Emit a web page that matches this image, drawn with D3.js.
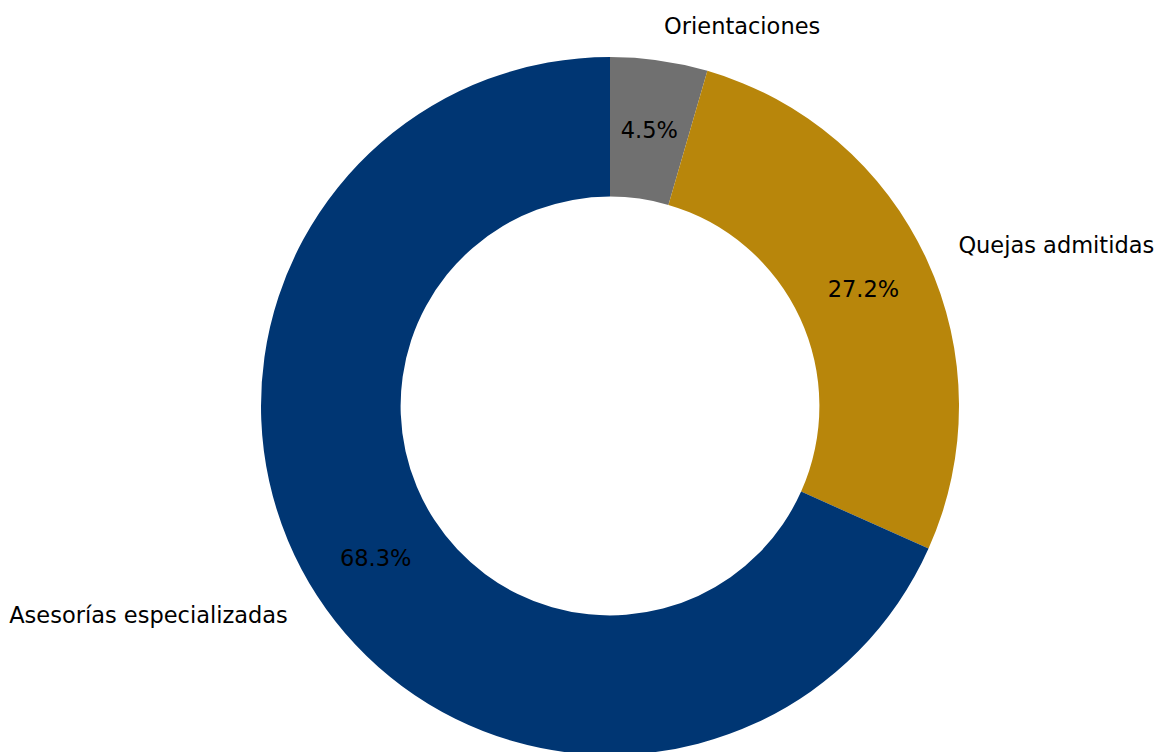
<!DOCTYPE html>
<html>
<head>
<meta charset="utf-8">
<script src="https://cdn.jsdelivr.net/npm/d3@7"></script>
<style>
  body { margin: 0; background: #fff; }
  svg { display: block; }
  text { font-family: "DejaVu Sans", sans-serif; fill: #000; }
</style>
</head>
<body>
<script>
// slice labels and shares (percent), clockwise from 12 o'clock
var categories = ["Orientaciones", "Quejas admitidas", "Asesorías especializadas"];
var shares = [4.5, 27.2, 68.3];
var colors = ["#707070", "#b8860b", "#003673"];

var width = 1159, height = 752;
var cx = 610, cy = 406;
var outerR = 349, innerR = outerR * 0.6;
var labelR = outerR * 1.1, pctR = outerR * 0.8;

var data = categories.map(function(c, i) { return {name: c, value: shares[i], color: colors[i]}; });

var svg = d3.select("body").append("svg")
    .attr("width", width)
    .attr("height", height);

var g = svg.append("g")
    .attr("transform", "translate(" + cx + "," + cy + ")");

var pie = d3.pie()
    .sort(null)
    .value(function(d) { return d.value; });

var arc = d3.arc()
    .innerRadius(innerR)
    .outerRadius(outerR);

var arcs = pie(data);

g.selectAll("path.slice")
  .data(arcs)
  .enter().append("path")
    .attr("class", "slice")
    .attr("d", arc)
    .style("fill", function(d) { return d.data.color; });

function mid(d) { return (d.startAngle + d.endAngle) / 2; }

// percent labels inside the ring
g.selectAll("text.pct")
  .data(arcs)
  .enter().append("text")
    .attr("class", "pct")
    .attr("x", function(d) { return pctR * Math.sin(mid(d)); })
    .attr("y", function(d) { return -pctR * Math.cos(mid(d)); })
    .attr("text-anchor", "middle")
    .attr("dominant-baseline", "central")
    .style("font-size", "22.5px")
    .text(function(d) { return d.data.value.toFixed(1) + "%"; });

// category labels outside, anchored by side like matplotlib
g.selectAll("text.lbl")
  .data(arcs)
  .enter().append("text")
    .attr("class", "lbl")
    .attr("x", function(d) { return labelR * Math.sin(mid(d)); })
    .attr("y", function(d) { return -labelR * Math.cos(mid(d)); })
    .attr("text-anchor", function(d) { return Math.sin(mid(d)) >= 0 ? "start" : "end"; })
    .attr("dominant-baseline", "central")
    .style("font-size", "22.5px")
    .text(function(d) { return d.data.name; });
</script>
</body>
</html>
